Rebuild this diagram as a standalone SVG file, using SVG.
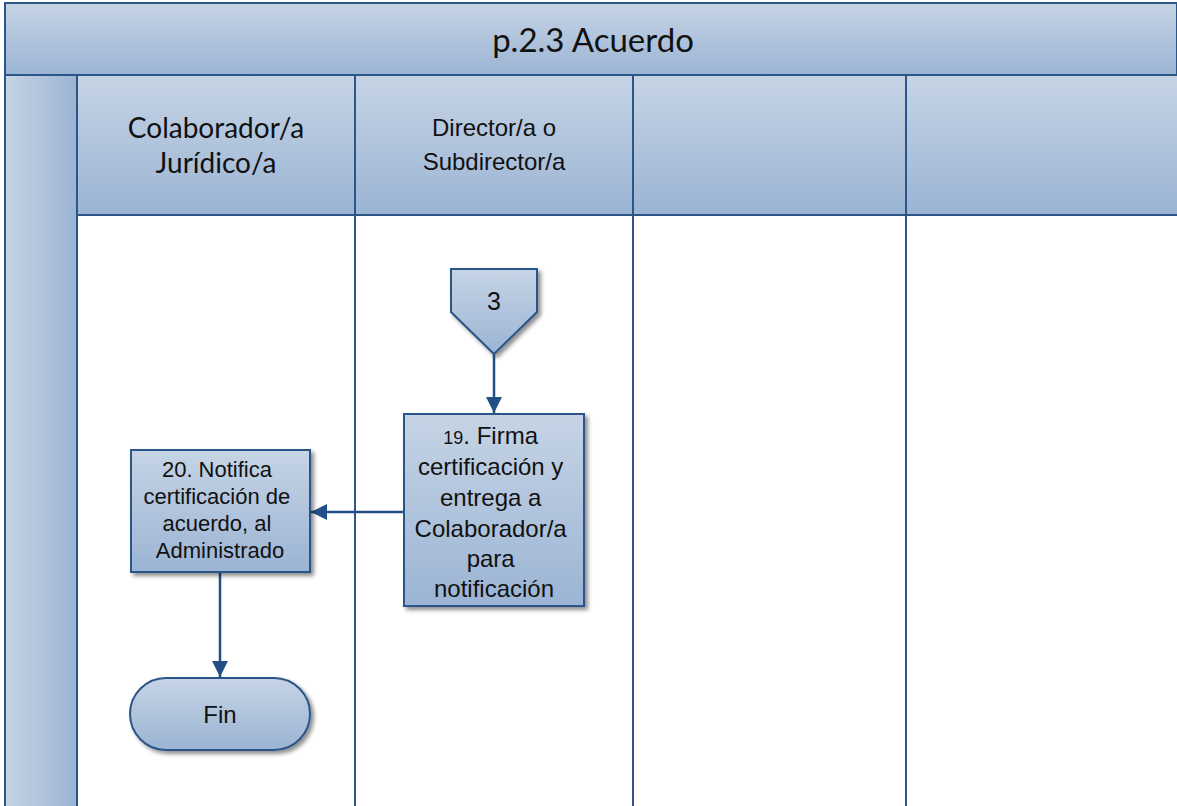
<svg xmlns="http://www.w3.org/2000/svg" width="1177" height="806" viewBox="0 0 1177 806">
  <defs>
    <linearGradient id="gV" x1="0" y1="0" x2="0" y2="1">
      <stop offset="0" stop-color="#c6d4e5"/>
      <stop offset="1" stop-color="#9bb4d4"/>
    </linearGradient>
    <linearGradient id="gH" x1="0" y1="0" x2="1" y2="0">
      <stop offset="0" stop-color="#c6d4e5"/>
      <stop offset="1" stop-color="#9bb4d4"/>
    </linearGradient>
    <filter id="sh" x="-10%" y="-10%" width="130%" height="130%">
      <feGaussianBlur in="SourceAlpha" stdDeviation="2"/>
      <feOffset dx="3" dy="3"/>
      <feComponentTransfer><feFuncA type="linear" slope="0.45"/></feComponentTransfer>
      <feMerge><feMergeNode/><feMergeNode in="SourceGraphic"/></feMerge>
    </filter>
    <marker id="arr" viewBox="0 0 10 10" refX="10" refY="5" markerWidth="16" markerHeight="16" markerUnits="userSpaceOnUse" orient="auto">
      <path d="M0,0 L10,5 L0,10 Z" fill="#234f85"/>
    </marker>
  </defs>
  <style>
    .band { fill: url(#gV); stroke: #2c5588; stroke-width: 2; }
    .lane { fill: #ffffff; stroke: #2c5588; stroke-width: 2; }
    .shape { fill: url(#gV); stroke: #2c5588; stroke-width: 2; filter: url(#sh); }
    .conn { fill: none; stroke: #234f85; stroke-width: 2.5; marker-end: url(#arr); }
    .cal { font-family: Lato, "Open Sans", sans-serif; fill: #111; text-anchor: middle; }
    .ar { font-family: "Liberation Sans", Arial, sans-serif; fill: #111; text-anchor: middle; }
  </style>

  <rect width="1177" height="806" fill="#ffffff"/>

  <!-- pool title -->
  <g id="pool">
    <rect class="band" x="5" y="3" width="1172" height="72"/>
    <text class="cal" x="593" y="52" font-size="33">p.2.3 Acuerdo</text>
    <rect x="5" y="75" width="72" height="740" fill="url(#gH)" stroke="#2c5588" stroke-width="2"/>
  </g>

  <!-- lanes -->
  <g id="lane1">
    <rect class="band" x="77" y="75" width="278" height="140"/>
    <rect class="lane" x="77" y="215" width="278" height="600"/>
    <text class="cal" x="216" y="138" font-size="28">Colaborador/a</text>
    <text class="cal" x="216" y="173" font-size="28">Jurídico/a</text>
  </g>
  <g id="lane2">
    <rect class="band" x="355" y="75" width="278" height="140"/>
    <rect class="lane" x="355" y="215" width="278" height="600"/>
    <text class="ar" x="494" y="136" font-size="24">Director/a o</text>
    <text class="ar" x="494" y="170" font-size="24">Subdirector/a</text>
  </g>
  <g id="lane3">
    <rect class="band" x="633" y="75" width="273" height="140"/>
    <rect class="lane" x="633" y="215" width="273" height="600"/>
  </g>
  <g id="lane4">
    <rect class="band" x="906" y="75" width="272" height="140"/>
    <rect class="lane" x="906" y="215" width="272" height="600"/>
  </g>

  <!-- connectors -->
  <g id="connectors">
    <line class="conn" x1="494" y1="354" x2="494" y2="413"/>
    <line class="conn" x1="404" y1="512" x2="311" y2="512"/>
    <line class="conn" x1="220" y1="572" x2="220" y2="677"/>
  </g>

  <!-- off-page reference 3 -->
  <g id="ref3">
    <path class="shape" d="M451,269 H537 V312 L494,354 L451,312 Z"/>
    <text class="ar" x="494" y="310" font-size="25">3</text>
  </g>

  <!-- step 19 -->
  <g id="step19">
    <rect class="shape" x="404" y="414" width="180" height="192"/>
    <text class="ar" font-size="24">
      <tspan x="494" y="444"><tspan font-size="18">19</tspan>. Firma</tspan>
      <tspan x="494" y="475">certificación y</tspan>
      <tspan x="494" y="506">entrega a</tspan>
      <tspan x="494" y="537">Colaborador/a</tspan>
      <tspan x="494" y="567">para</tspan>
      <tspan x="494" y="597">notificación</tspan>
    </text>
  </g>

  <!-- step 20 -->
  <g id="step20">
    <rect class="shape" x="131" y="450" width="179" height="122"/>
    <text class="ar" font-size="22">
      <tspan x="220" y="477">20. Notifica</tspan>
      <tspan x="220" y="504">certificación de</tspan>
      <tspan x="220" y="531">acuerdo, al</tspan>
      <tspan x="220" y="558">Administrado</tspan>
    </text>
  </g>

  <!-- end -->
  <g id="fin">
    <rect class="shape" x="130" y="678" width="180" height="72" rx="36" ry="36"/>
    <text class="ar" x="220" y="723" font-size="24">Fin</text>
  </g>
</svg>
